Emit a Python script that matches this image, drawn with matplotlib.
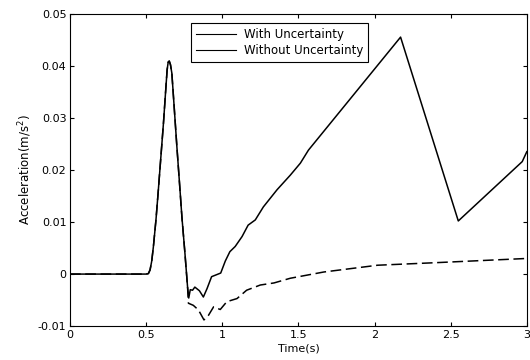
import matplotlib.pyplot as plt
from matplotlib.lines import Line2D

plt.rcParams['font.family'] = ['DejaVu Sans']

# shared pulse (both responses identical up to ~0.77 s)
t_pulse = [0.0, 0.50, 0.515, 0.526, 0.537, 0.548, 0.565, 0.58, 0.597, 0.614, 0.628,
           0.638, 0.645, 0.652, 0.66, 0.669, 0.685, 0.702, 0.72, 0.735, 0.755, 0.772]
a_pulse = [0.0, 0.0, 0.0001, 0.0008, 0.0025, 0.0053, 0.0105, 0.016, 0.0225, 0.029,
           0.0350, 0.0392, 0.0407, 0.0409, 0.0402, 0.0386, 0.0318, 0.0245, 0.0172,
           0.011, 0.0040, -0.0024]

# with uncertainty (solid)
t_with = [0.78, 0.79, 0.805, 0.82, 0.85, 0.876, 0.90, 0.93, 0.99, 1.02, 1.05, 1.085,
          1.13, 1.17, 1.217, 1.27, 1.36, 1.447, 1.513, 1.566, 2.171, 2.55, 2.97, 3.0]
a_with = [-0.0046, -0.003, -0.0031, -0.0025, -0.0032, -0.0044, -0.0028, -0.0005,
          0.0002, 0.0025, 0.0043, 0.0053, 0.0072, 0.0094, 0.0104, 0.0129, 0.0162,
          0.019, 0.0213, 0.0238, 0.0455, 0.0102, 0.0216, 0.0235]

# without uncertainty (dashed)
t_without = [0.778, 0.81, 0.844, 0.88, 0.91, 0.943, 0.987, 1.03, 1.097, 1.16, 1.25,
             1.34, 1.447, 1.557, 1.667, 2.02, 2.41, 3.0]
a_without = [-0.0056, -0.006, -0.0069, -0.0088, -0.0079, -0.0063, -0.0068, -0.0053,
             -0.0047, -0.0031, -0.0021, -0.0017, -0.0008, -0.0002, 0.0004, 0.0017,
             0.0022, 0.003]

fig = plt.figure(figsize=(5.3, 3.6), dpi=100)
ax = fig.add_axes([0.132, 0.094, 0.862, 0.868])

ax.plot(t_pulse + t_with, a_pulse + a_with, color='black', lw=1.1)
ax.plot(t_pulse + t_without, a_pulse + a_without, color='black', lw=1.1,
        dashes=(7, 3))

ax.set_xlim(0, 3)
ax.set_ylim(-0.01, 0.05)
ax.set_xticks([0, 0.5, 1, 1.5, 2, 2.5, 3])
ax.set_xticklabels(['0', '0.5', '1', '1.5', '2', '2.5', '3'])
ax.set_yticks([-0.01, 0, 0.01, 0.02, 0.03, 0.04, 0.05])
ax.set_yticklabels(['-0.01', '0', '0.01', '0.02', '0.03', '0.04', '0.05'])
ax.tick_params(direction='in', top=True, right=True, length=3, width=0.8,
               labelsize=8, pad=2.5)
for s in ax.spines.values():
    s.set_linewidth(0.8)

ax.set_xlabel('Time(s)', fontsize=8, labelpad=2.5)
ax.set_ylabel('Acceleration(m/s$^2$)', fontsize=8.5, labelpad=3)

handles = [Line2D([], [], color='black', lw=0.8),
           Line2D([], [], color='black', lw=0.8)]
leg = ax.legend(handles, ['With Uncertainty', 'Without Uncertainty'],
                loc='upper left', bbox_to_anchor=(0.265, 0.97), fontsize=8.5,
                fancybox=False, edgecolor='black', framealpha=1,
                borderaxespad=0, handlelength=3.4, labelspacing=0.2,
                borderpad=0.45, handletextpad=0.6)
leg.get_frame().set_linewidth(0.8)

fig.savefig('out.png', dpi=100)
